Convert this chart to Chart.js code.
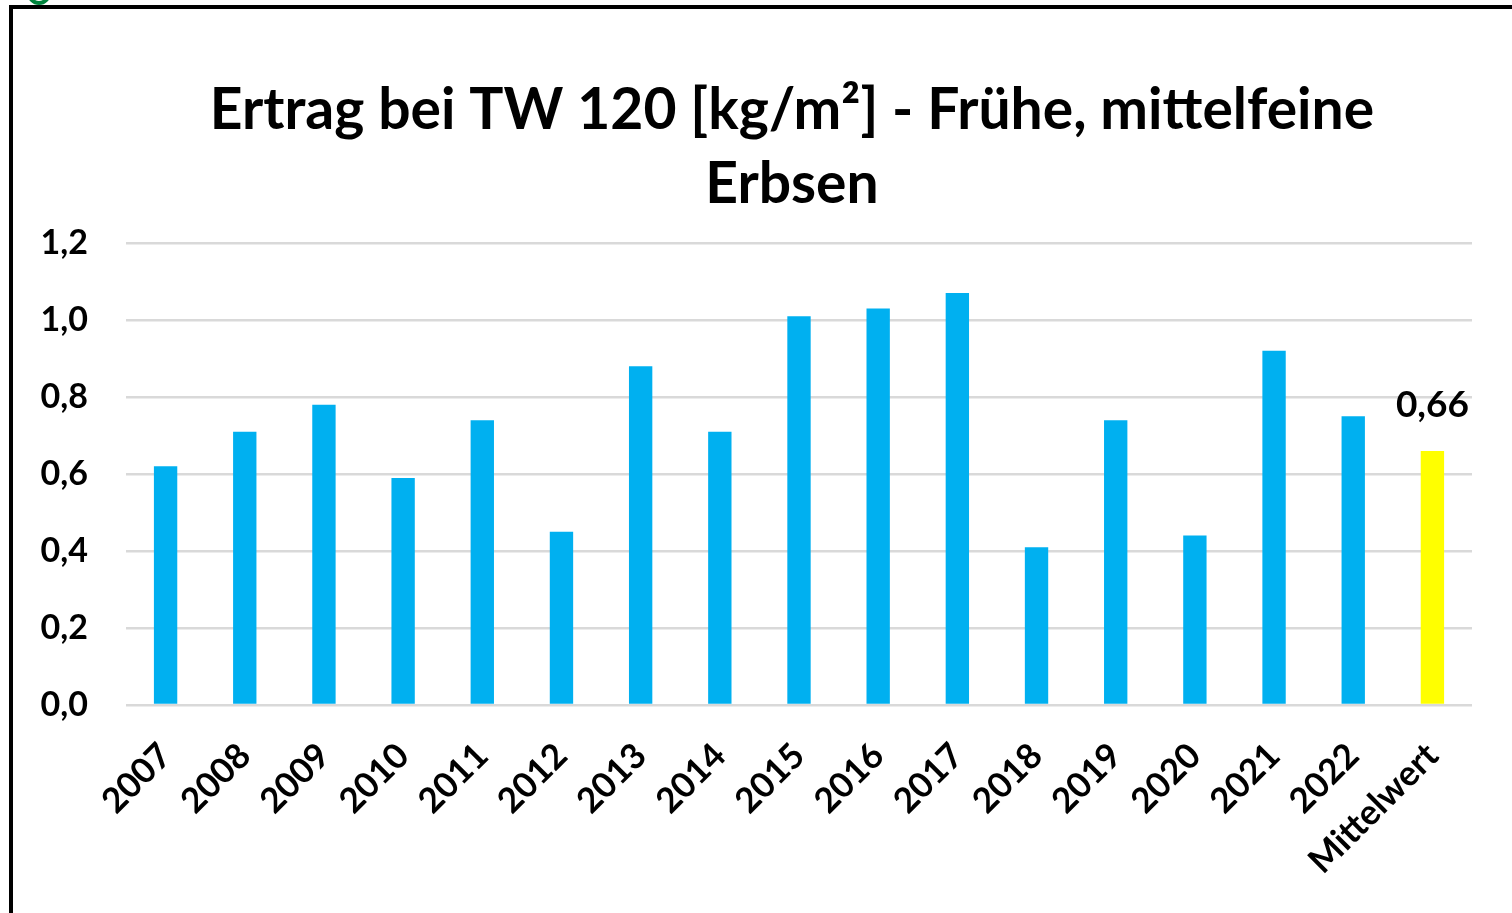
<!DOCTYPE html>
<html lang="de">
<head>
<meta charset="utf-8">
<title>Ertrag bei TW 120 - Frühe, mittelfeine Erbsen</title>
<script src="https://cdn.jsdelivr.net/npm/chart.js@4.4.1/dist/chart.umd.min.js"></script>
<style>
  html, body { margin: 0; padding: 0; background: #fff; width: 1512px; height: 913px; overflow: hidden; position: relative; }
  .mark { position: absolute; left: 27px; top: -19px; width: 16px; height: 16px; border: 4px solid #00843d; border-radius: 50%; }
  .frame { position: absolute; left: 9px; top: 5px; width: 1620px; height: 960px; border-left: 4px solid #000; border-top: 4px solid #000; }
  .chart-box { position: absolute; left: 13px; top: 9px; width: 1558px; height: 904px; }
</style>
</head>
<body>
<div class="mark"></div>
<div class="frame"></div>
<div class="chart-box"><canvas id="ertragChart"></canvas></div>

<script>
// ───── Daten ─────
const kategorien = ["2007", "2008", "2009", "2010", "2011", "2012", "2013", "2014",
  "2015", "2016", "2017", "2018", "2019", "2020", "2021", "2022", "Mittelwert"];
const ertrag = [0.62, 0.71, 0.78, 0.59, 0.74, 0.45, 0.88, 0.71,
  1.01, 1.03, 1.07, 0.41, 0.74, 0.44, 0.92, 0.75, 0.66];
const titelZeilen = ["Ertrag bei TW 120 [kg/m²] - Frühe, mittelfeine", "Erbsen"];
const yMin = 0;
const yMax = 1.2;
const ySchritt = 0.2;
const beschriftet = ["Mittelwert"];

const BLAU = "#00B0F0";
const GELB = "#FFFF00";
const SCHRIFT = "Lato, 'Open Sans', sans-serif";

const komma = (v, n) => Number(v).toFixed(n).replace(".", ",");

// Wertbeschriftung über dem Mittelwert-Balken
const wertLabelPlugin = {
  id: "wertLabel",
  afterDatasetsDraw(chart) {
    const ctx = chart.ctx;
    const meta = chart.getDatasetMeta(0);
    ctx.save();
    ctx.font = "bold 37px " + SCHRIFT;
    ctx.fillStyle = "#000";
    ctx.textAlign = "center";
    ctx.textBaseline = "alphabetic";
    meta.data.forEach((bar, i) => {
      if (beschriftet.indexOf(kategorien[i]) === -1) return;
      ctx.fillText(komma(ertrag[i], 2), bar.x, bar.y - 34);
    });
    ctx.restore();
  }
};

document.addEventListener("DOMContentLoaded", function () {
  const ctx = document.getElementById("ertragChart").getContext("2d");
  new Chart(ctx, {
    type: "bar",
    data: {
      labels: kategorien,
      datasets: [{
        data: ertrag,
        backgroundColor: kategorien.map(k => k === "Mittelwert" ? GELB : BLAU),
        borderWidth: 0,
        barPercentage: 0.295,
        categoryPercentage: 1.0
      }]
    },
    options: {
      responsive: true,
      maintainAspectRatio: false,
      animation: false,
      layout: { padding: 0 },
      scales: {
        x: {
          offset: true,
          grid: { display: false, drawTicks: false },
          border: { display: false },
          ticks: {
            autoSkip: false,
            minRotation: 45,
            maxRotation: 45,
            padding: 30,
            color: "#000",
            font: { family: SCHRIFT, size: 35, weight: "bold" }
          },
          afterFit: s => { s.height = 208; }
        },
        y: {
          min: yMin,
          max: yMax,
          grid: { color: "#D9D9D9", lineWidth: 2.5, drawTicks: false },
          border: { display: false },
          ticks: {
            stepSize: ySchritt,
            padding: 38,
            color: "#000",
            font: { family: SCHRIFT, size: 34, weight: "bold" },
            callback: v => komma(v, 1)
          },
          afterFit: s => { s.width = 113; }
        },
        // leere rechte Achse, damit der Titel wie im Original sitzt
        rechts: {
          position: "right",
          display: true,
          grid: { display: false, drawTicks: false },
          border: { display: false },
          ticks: { display: false },
          afterFit: s => { s.width = 99; }
        }
      },
      plugins: {
        legend: { display: false },
        tooltip: { enabled: false },
        title: {
          display: true,
          text: titelZeilen,
          color: "#000",
          font: { family: SCHRIFT, size: 57, weight: "bold", lineHeight: 1.29 },
          padding: { top: 65, bottom: 22 }
        }
      }
    },
    plugins: [wertLabelPlugin]
  });
});
</script>
</body>
</html>
